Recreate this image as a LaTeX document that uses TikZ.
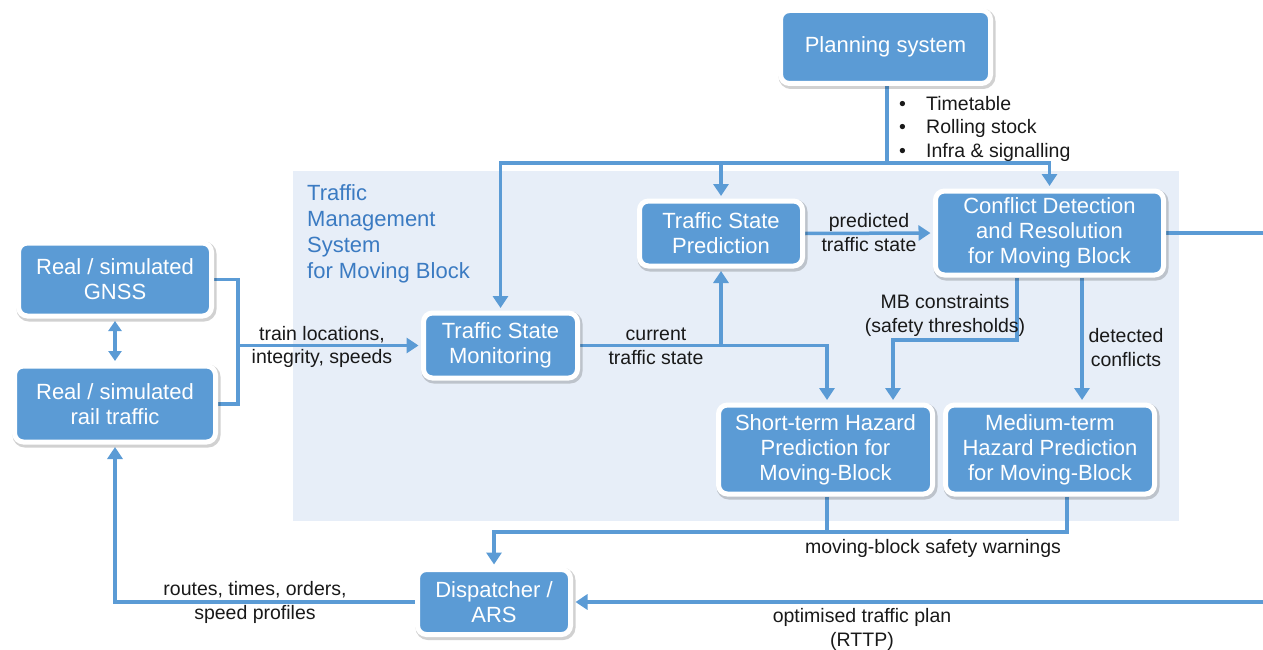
\documentclass[tikz,border=0pt]{standalone}
\usepackage{fontspec}
\setmainfont{Liberation Sans}
\usetikzlibrary{arrows.meta}
\definecolor{boxblue}{HTML}{5B9BD5}
\definecolor{bgblue}{HTML}{E7EEF8}
\definecolor{titleblue}{HTML}{3B7BC2}
\pgfdeclarelayer{bg}
\pgfdeclarelayer{mid}
\pgfsetlayers{bg,mid,main}
\begin{document}
\begin{tikzpicture}[x=1pt,y=-1pt,
  box/.style={draw=white, line width=5pt, fill=boxblue, rounded corners=9pt, text=white, align=center, inner sep=0pt,
    font=\fontsize{22}{25}\selectfont,
    preaction={draw=black, draw opacity=0.18, line width=7pt, fill=none, transform canvas={shift={(1.5pt,-2pt)}}}},
  lbl/.style={align=center, inner sep=0pt, font=\fontsize{19.5}{23.5}\selectfont, text=black!90},
  conn/.style={draw=boxblue, line width=3.5pt},
  arr/.style={conn, -{Triangle[width=15pt,length=12pt]}, shorten >=2.5pt},
  dbl/.style={conn, {Triangle[width=13pt,length=10pt]}-{Triangle[width=13pt,length=10pt]}, shorten >=2.5pt, shorten <=2.5pt},
]
\useasboundingbox (0,0) rectangle (1263,650);

\begin{pgfonlayer}{bg}
\fill[bgblue] (293,171) rectangle (1179,521);
\end{pgfonlayer}

% boxes
\node[box, minimum width=210pt, minimum height=73pt] (plan) at (885.5,47) {Planning system};
\node[box, minimum width=193pt, minimum height=73pt] (gnss) at (115,279.5) {Real / simulated\\GNSS};
\node[box, minimum width=201pt, minimum height=76pt] (rail) at (115,404) {Real / simulated\\rail traffic};
\node[box, minimum width=154pt, minimum height=65pt] (tsm) at (500.5,345.5) {Traffic State\\Monitoring};
\node[box, minimum width=163pt, minimum height=65pt] (tsp) at (721,233.5) {Traffic State\\Prediction};
\node[box, minimum width=228pt, minimum height=84pt] (cdr) at (1049.5,233) {Conflict Detection\\and Resolution\\for Moving Block};
\node[box, minimum width=214pt, minimum height=89pt] (sth) at (825.5,449.5) {Short-term Hazard\\Prediction for\\Moving-Block};
\node[box, minimum width=209pt, minimum height=89pt] (mth) at (1050,449.5) {Medium-term\\Hazard Prediction\\for Moving-Block};
\node[box, minimum width=153pt, minimum height=65pt] (disp) at (494,602) {Dispatcher /\\ARS};

% title and texts
\node[anchor=west, align=left, inner sep=0pt, text=titleblue, font=\fontsize{22}{26}\selectfont] (title) at (307,233.5) {Traffic\\Management\\System\\for Moving Block};
\node[lbl, anchor=west, align=left] (plist) at (899,128.5) {\makebox[27pt][l]{•}Timetable\\\makebox[27pt][l]{•}Rolling stock\\\makebox[27pt][l]{•}Infra \& signalling};
\node[lbl] (l1) at (322,347) {train locations,\\integrity, speeds};
\node[lbl] (l2) at (656,346.5) {current\\traffic state};
\node[lbl] (l3) at (869,232.5) {predicted\\traffic state};
\node[lbl] (l4) at (945,315.5) {MB constraints\\(safety thresholds)};
\node[lbl] (l5) at (1126,347.5) {detected\\conflicts};
\node[lbl] (l6) at (933,548) {moving-block safety warnings};
\node[lbl] (l7) at (255,602.5) {routes, times, orders,\\speed profiles};
\node[lbl] (l8) at (862,629.5) {optimised traffic plan\\(RTTP)};

% connectors
\begin{pgfonlayer}{mid}
\coordinate (pj) at (887,163);
\draw[conn] (plan.south -| pj) -- (pj);
\draw[arr] (pj) -| (tsm.north);
\draw[arr] (pj) -| (cdr.north);
\draw[arr] (tsp.north |- pj) -- (tsp.north);

\coordinate (gj) at (238,345.5);
\draw[conn] (gnss.east) -| (gj);
\draw[conn] (rail.east) -| (gj);
\draw[arr] (gj) -- (tsm.west);
\draw[dbl] (gnss.south) -- (rail.north);

\coordinate (mj) at (721,345.5);
\coordinate (sx) at (827,0);
\draw[arr] (tsm.east) -| (sth.north -| sx);
\draw[arr] (mj) -- (tsp.south);
\draw[arr] (tsp.east) -- (cdr.west);

\coordinate (mbx) at (1017,0);
\coordinate (mbk) at (893,340);
\draw[arr] (cdr.south -| mbx) |- (mbk) -- (mbk |- sth.north);
\coordinate (dcx) at (1082,0);
\draw[arr] (cdr.south -| dcx) -- (mth.north -| dcx);

\coordinate (re1) at (1263,233);
\draw[conn] (cdr.east) -- (re1);
\coordinate (re2) at (1263,602);
\draw[arr] (re2) -- (disp.east);

\coordinate (wl) at (494,532);
\coordinate (mx) at (1067,0);
\draw[arr] (mth.south -| mx) |- (wl) -- (disp.north);
\draw[conn] (sth.south -| sx) -- (sx |- wl);

\draw[arr] (disp.west) -| (rail.south);
\end{pgfonlayer}
\end{tikzpicture}
\end{document}
